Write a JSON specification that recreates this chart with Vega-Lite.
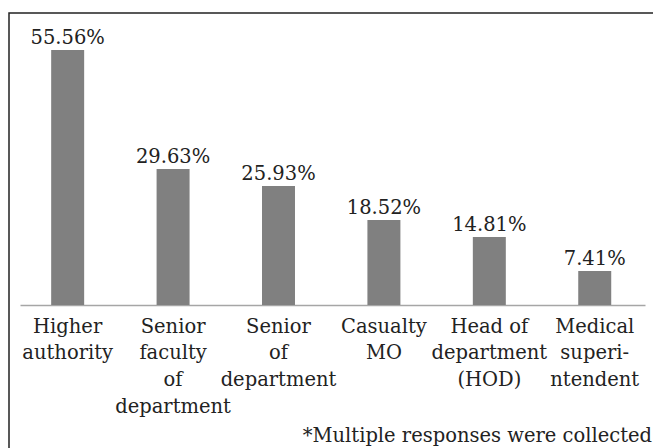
{
  "$schema": "https://vega.github.io/schema/vega-lite/v6.json",
  "autosize": {"type": "none"},
  "padding": {"left": 9, "top": 13, "right": 0, "bottom": 0},
  "width": 646,
  "height": 437,
  "background": "white",
  "config": {
    "view": {"stroke": "#222222", "strokeWidth": 1.5}
  },
  "title": {
    "text": "*Multiple responses were collected",
    "orient": "bottom",
    "anchor": "end",
    "frame": "group",
    "font": "DejaVu Serif",
    "fontSize": 19.5,
    "fontWeight": "normal",
    "color": "#222222",
    "offset": 0,
    "dy": -23,
    "dx": -3
  },
  "data": {
    "values": [
      {"category": "Higher authority", "pct": 55.56, "pctLabel": "55.56%"},
      {"category": "Senior faculty of department", "pct": 29.63, "pctLabel": "29.63%"},
      {"category": "Senior of department", "pct": 25.93, "pctLabel": "25.93%"},
      {"category": "Casualty MO", "pct": 18.52, "pctLabel": "18.52%"},
      {"category": "Head of department (HOD)", "pct": 14.81, "pctLabel": "14.81%"},
      {"category": "Medical superintendent", "pct": 7.41, "pctLabel": "7.41%"}
    ]
  },
  "encoding": {
    "x": {
      "field": "category",
      "type": "nominal",
      "sort": null,
      "scale": {"range": [11, 636], "paddingInner": 0.687, "paddingOuter": 0.308, "align": 0.48},
      "axis": {
        "title": null,
        "orient": "bottom",
        "offset": -145,
        "ticks": false,
        "domainColor": "#a6a6a6",
        "domainWidth": 1.5,
        "labelAngle": 0,
        "labelFont": "DejaVu Serif",
        "labelFontSize": 19.5,
        "labelColor": "#222222",
        "labelLineHeight": 26.7,
        "labelPadding": 12,
        "labelExpr": "split(datum.label == 'Higher authority' ? 'Higher\\nauthority' : datum.label == 'Senior faculty of department' ? 'Senior\\nfaculty\\nof\\ndepartment' : datum.label == 'Senior of department' ? 'Senior\\nof\\ndepartment' : datum.label == 'Casualty MO' ? 'Casualty\\nMO' : datum.label == 'Head of department (HOD)' ? 'Head of\\ndepartment\\n(HOD)' : 'Medical\\nsuperi-\\nntendent', '\\n')",
        "labelOverlap": false,
        "labelLimit": 0
      }
    },
    "y": {
      "field": "pct",
      "type": "quantitative",
      "scale": {"domain": [-31.6, 63.6], "nice": false, "zero": false},
      "axis": null
    }
  },
  "layer": [
    {
      "mark": {"type": "bar", "color": "#808080"},
      "encoding": {"y2": {"datum": 0}}
    },
    {
      "mark": {
        "type": "text",
        "baseline": "alphabetic",
        "dy": -6,
        "font": "DejaVu Serif",
        "fontSize": 19.5,
        "color": "#222222"
      },
      "encoding": {
        "text": {"field": "pctLabel", "type": "nominal"}
      }
    }
  ]
}
